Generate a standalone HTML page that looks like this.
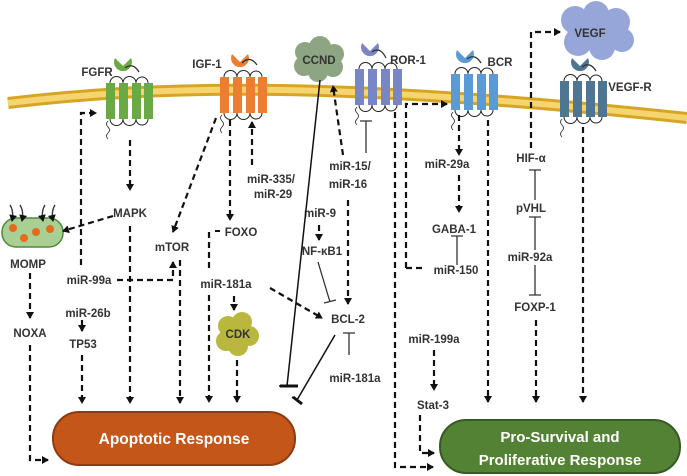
<!DOCTYPE html>
<html><head><meta charset="utf-8"><style>
html,body{margin:0;padding:0;background:#fff;}
svg{display:block;font-family:"Liberation Sans",sans-serif;}
text{font-weight:bold;font-size:11.5px;fill:#333;text-anchor:middle;}
.d{stroke:#111;stroke-width:2.2;stroke-dasharray:6,4;fill:none;}
.s{stroke:#333;stroke-width:1.3;fill:none;}
</style></head><body>
<svg width="687" height="476" viewBox="0 0 687 476">
<defs>
<marker id="a" markerWidth="8" markerHeight="8" refX="6" refY="4" orient="auto" markerUnits="userSpaceOnUse"><path d="M0,0 L7,4 L0,8 z" fill="#111"/></marker>
<g id="rec">
 <rect x="0" y="0" width="9" height="36"/><rect x="13" y="0" width="9" height="36"/><rect x="26" y="0" width="9" height="36"/><rect x="38" y="0" width="9" height="36"/>
 <path d="M4,0 A6,6 0 0 1 17,0 M17,0 A6,6 0 0 1 30,0 M30,0 A6,6 0 0 1 42,0 M4,36 A6,6 0 0 0 17,36 M17,36 A6,6 0 0 0 30,36 M30,36 A6,6 0 0 0 42,36" fill="none" stroke="#222" stroke-width="1"/>
 <path d="M2,38 q-3,3 0,6 q3,3 0,6 q-3,3 0,6" fill="none" stroke="#222" stroke-width="0.8"/>
</g>
</defs>
<path d="M8,103 C150,86 330,80 687,118" stroke="#d6a526" stroke-width="12" fill="none"/>
<path d="M8,103 C150,86 330,80 687,118" stroke="#f6d46e" stroke-width="6" fill="none"/>

<use href="#rec" x="106" y="83" fill="#6aaa45"/>
<use href="#rec" x="220" y="77" fill="#ed7d31"/>
<use href="#rec" x="355" y="69" fill="#7986c6"/>
<use href="#rec" x="451" y="74" fill="#5b9bd5"/>
<use href="#rec" x="560" y="81" fill="#4e7592"/>
<g>
<path d="M131,58 A9,9 0 1 1 115,58 L123,66 z" fill="#6aaa45"/><path d="M125,68 q8,-6 14,4" class="s" stroke-width="1"/>
<path d="M248,54 A9,9 0 1 1 232,54 L240,62 z" fill="#ed7d31"/><path d="M242,63 q8,-8 15,2" class="s" stroke-width="1"/>
<path d="M378,43 A9,9 0 1 1 362,43 L370,51 z" fill="#7986c6"/><path d="M372,52 q8,-6 14,6" class="s" stroke-width="1"/>
<path d="M473,50 A9,9 0 1 1 457,50 L465,58 z" fill="#5b9bd5"/><path d="M467,59 q8,-6 14,4" class="s" stroke-width="1"/>
<path d="M588,58 A9,9 0 1 1 572,58 L580,66 z" fill="#4e7592"/><path d="M582,67 q8,-6 14,4" class="s" stroke-width="1"/>
</g>
<g fill="#8da583"><circle cx="305" cy="52" r="10"/><circle cx="320" cy="47" r="11"/><circle cx="334" cy="54" r="10"/><circle cx="333" cy="67" r="10"/><circle cx="318" cy="72" r="10"/><circle cx="304" cy="66" r="10"/><circle cx="318" cy="60" r="12"/></g>
<g fill="#97a6d8"><circle cx="575" cy="20" r="14"/><circle cx="596" cy="14" r="13"/><circle cx="616" cy="22" r="14"/><circle cx="622" cy="40" r="12"/><circle cx="602" cy="47" r="13"/><circle cx="578" cy="42" r="14"/><circle cx="596" cy="32" r="18"/></g>
<g fill="#b9b73d"><circle cx="228" cy="326" r="10"/><circle cx="242" cy="322" r="10"/><circle cx="249" cy="336" r="10"/><circle cx="238" cy="346" r="10"/><circle cx="226" cy="341" r="10"/><circle cx="238" cy="334" r="12"/></g>
<rect x="2" y="218" width="61" height="29" rx="14" fill="#a9cf94" stroke="#4e8a3a" stroke-width="1.5"/>
<g fill="#e36b1a"><circle cx="13" cy="228" r="4"/><circle cx="24" cy="238" r="4"/><circle cx="36" cy="232" r="4"/><circle cx="50" cy="229" r="4"/></g>
<g class="s" stroke="#111" stroke-width="1"><path d="M10,205 q4,6 2,16" marker-end="url(#a)"/><path d="M20,205 q4,6 2,16" marker-end="url(#a)"/><path d="M45,205 q-4,6 -2,16" marker-end="url(#a)"/><path d="M55,205 q-4,6 -2,16" marker-end="url(#a)"/></g>

<text x="97" y="76">FGFR</text><text x="207" y="68">IGF-1</text><text x="319" y="64" fill="#222">CCND</text>
<text x="408" y="64">ROR-1</text><text x="500" y="66">BCR</text><text x="590" y="37" fill="#222">VEGF</text><text x="630" y="91">VEGF-R</text>
<text x="130" y="217">MAPK</text><text x="28" y="268">MOMP</text><text x="30" y="337">NOXA</text>
<text x="89" y="284">miR-99a</text><text x="88" y="317">miR-26b</text><text x="83" y="348">TP53</text>
<text x="172" y="251">mTOR</text><text x="241" y="236">FOXO</text><text x="271" y="183">miR-335/</text><text x="273" y="198">miR-29</text>
<text x="226" y="288">miR-181a</text><text x="238" y="338" fill="#222">CDK</text>
<text x="350" y="170">miR-15/</text><text x="348" y="188">miR-16</text><text x="320" y="217">miR-9</text><text x="322" y="255">NF-κB1</text>
<text x="348" y="323">BCL-2</text><text x="355" y="382">miR-181a</text>
<text x="447" y="168">miR-29a</text><text x="454" y="233">GABA-1</text><text x="456" y="274">miR-150</text>
<text x="531" y="162">HIF-α</text><text x="531" y="212">pVHL</text><text x="530" y="261">miR-92a</text><text x="535" y="311">FOXP-1</text>
<text x="434" y="343">miR-199a</text><text x="433" y="409">Stat-3</text>

<g class="d" marker-end="url(#a)">
<path d="M130,140 V190"/><path d="M113,216 L63,231"/><path d="M130,226 V403"/>
<path d="M81,265 V113 H96"/><path d="M117,280 H173 V262"/>
<path d="M82,320 V331"/><path d="M82,355 V403"/>
<path d="M30,273 V318"/><path d="M30,345 V460 H48"/>
<path d="M216,118 L173,232"/><path d="M230,120 V220"/><path d="M252,165 V122"/>
<path d="M180,260 V403"/><path d="M209,295 V402"/>
<path d="M234,296 V310"/><path d="M237,360 V402"/><path d="M270,288 L322,318"/>
<path d="M343,155 L333,86"/><path d="M348,200 V304"/><path d="M319,225 V240"/>
<path d="M395,112 V467 H433"/><path d="M406,268 V104 H447"/>
<path d="M459,115 V155"/><path d="M459,175 V212"/><path d="M488,120 V402"/>
<path d="M531,148 V32 H560"/><path d="M536,320 V402"/><path d="M583,127 V402"/>
<path d="M434,350 V390"/><path d="M420,415 V453 H434"/>
</g>
<g class="d"><path d="M209,232 V270"/><path d="M406,268 H425"/></g>
<path d="M215,231 H220" stroke="#111" stroke-width="2"/>
<g class="s">
<path d="M320,80 L287,386 M279,386 H296" stroke="#111" stroke-width="1.5"/>
<path d="M335,335 L297,400 M292,397 L302,403" stroke="#111" stroke-width="1.5"/>
<path d="M366,153 V121 M360,121 H372"/>
<path d="M318,262 L330,302 M324,303 L336,300"/>
<path d="M349,355 V333 M343,333 H355"/>
<path d="M457,265 V236 M451,236 H463"/>
<path d="M535,200 V170 M529,170 H541"/>
<path d="M535,250 V217 M529,217 H541"/>
<path d="M535,265 V295 M529,295 H541"/>
</g>
<path d="M298,386 H280" stroke="#111" stroke-width="3"/>
<path d="M293,397 L302,404" stroke="#111" stroke-width="3"/>

<rect x="53" y="412" width="242" height="53" rx="26" fill="#c5561a" stroke="#8d3b10" stroke-width="2"/>
<text x="174" y="444" style="font-size:15.5px;fill:#fff">Apoptotic Response</text>
<rect x="440" y="420" width="240" height="53" rx="26" fill="#548235" stroke="#375a22" stroke-width="2"/>
<text x="560" y="442" style="font-size:15px;fill:#fff">Pro-Survival and</text>
<text x="560" y="465" style="font-size:15px;fill:#fff">Proliferative Response</text>
</svg>
</body></html>
